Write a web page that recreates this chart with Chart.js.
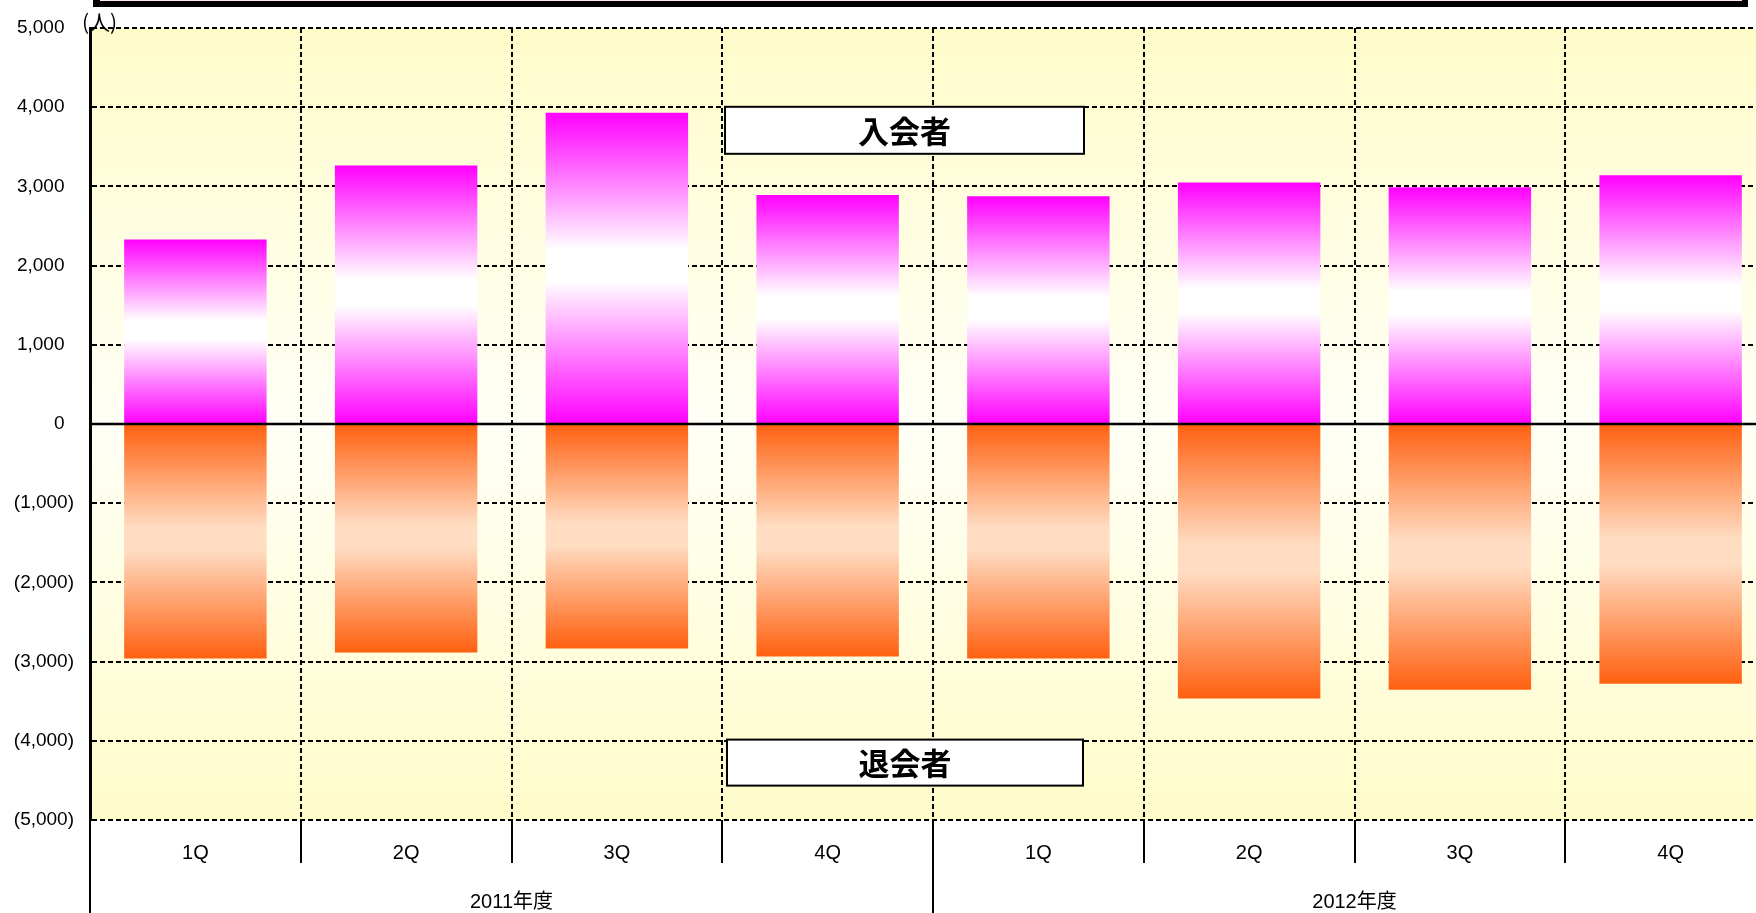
<!DOCTYPE html>
<html lang="ja">
<head>
<meta charset="utf-8">
<title>入会者・退会者</title>
<script src="https://cdn.jsdelivr.net/npm/chart.js"></script>
<style>
  html, body { margin: 0; padding: 0; background: #fff; overflow: hidden; }
  #wrap { position: relative; width: 1756px; height: 913px; overflow: hidden; }
  canvas { display: block; }
</style>
</head>
<body>
<div id="wrap">
  <canvas id="memberChart" width="1790" height="913"></canvas>
</div>
<script>
/* 入会者 / 退会者 quarterly chart */

const quarters = ["1Q", "2Q", "3Q", "4Q", "1Q", "2Q", "3Q", "4Q"];
const fiscalYears = ["2011年度", "2012年度"];
const joined = [2330, 3265, 3930, 2890, 2875, 3050, 2990, 3140];
const withdrawn = [-2960, -2885, -2835, -2935, -2960, -3465, -3355, -3280];
const yMin = -5000;
const yMax = 5000;
const yStep = 1000;

const NUM_FONT = "'Liberation Sans', Arial, 'Noto Sans CJK JP', sans-serif";
const JP_FONT = "'Noto Sans CJK JP', sans-serif";

// accounting style: negatives in brackets, positives padded to line up
function formatTick(value) {
  const text = Math.abs(value).toLocaleString("en-US");
  return value < 0 ? "(" + text + ")" : text + "\u2002";
}

function barGradient(context, edge, middle) {
  const chart = context.chart;
  const yScale = chart.scales.y;
  if (!chart.chartArea || !yScale || context.type !== "data") return edge;

  const top = yScale.getPixelForValue(context.raw);
  const base = yScale.getPixelForValue(0);
  const g = chart.ctx.createLinearGradient(0, Math.min(top, base), 0, Math.max(top, base));
  g.addColorStop(0, edge);
  g.addColorStop(0.44, middle);
  g.addColorStop(0.54, middle);
  g.addColorStop(1, edge);
  return g;
}

const backgroundPlugin = {
  id: "plotBackground",
  beforeDraw(chart) {
    const { ctx, chartArea } = chart;
    ctx.save();
    ctx.fillStyle = "#ffffff";
    ctx.fillRect(0, 0, chart.width, chart.height);

    const g = ctx.createLinearGradient(0, chartArea.top, 0, chartArea.bottom);
    g.addColorStop(0, "#fffcca");
    g.addColorStop(0.5, "#fffff6");
    g.addColorStop(1, "#fffcca");
    ctx.fillStyle = g;
    ctx.fillRect(chartArea.left, chartArea.top, chartArea.right - chartArea.left, chartArea.bottom - chartArea.top);
    ctx.restore();
  }
};

const overlayPlugin = {
  id: "overlay",
  afterDatasetsDraw(chart) {
    const { ctx, chartArea, scales } = chart;
    const zero = scales.y.getPixelForValue(0);
    ctx.save();
    ctx.strokeStyle = "#000";
    ctx.lineWidth = 2.5;
    ctx.beginPath();
    ctx.moveTo(chartArea.left, zero);
    ctx.lineTo(chartArea.right, zero);
    ctx.stroke();
    ctx.restore();
  },
  afterDraw(chart) {
    const { ctx, chartArea, scales } = chart;
    const x = scales.x;
    const y = scales.y;

    ctx.save();

    // clipped title frame at the very top
    ctx.fillStyle = "#000";
    ctx.fillRect(93, -10, 1655, 17);
    ctx.fillStyle = "#ffeaea";
    ctx.fillRect(100, -10, 1642, 11);

    // left axis and year divider running below the plot
    ctx.strokeStyle = "#000";
    ctx.lineWidth = 2;
    const yearSplit = (x.getPixelForValue(3) + x.getPixelForValue(4)) / 2;
    ctx.beginPath();
    ctx.moveTo(chartArea.left, chartArea.bottom);
    ctx.lineTo(chartArea.left, chart.height);
    ctx.moveTo(yearSplit, chartArea.bottom);
    ctx.lineTo(yearSplit, chart.height);
    ctx.stroke();

    // fiscal year labels
    ctx.fillStyle = "#000";
    ctx.font = "20px " + NUM_FONT;
    ctx.textAlign = "center";
    ctx.textBaseline = "middle";
    const yearEnds = [chartArea.left, yearSplit, chartArea.right];
    fiscalYears.forEach((label, i) => {
      ctx.fillText(label, (yearEnds[i] + yearEnds[i + 1]) / 2, 902);
    });

    // unit label
    ctx.font = "21px " + JP_FONT;
    ctx.textAlign = "left";
    ctx.fillText("(人)", 82, 22);

    // series boxes
    drawBox(ctx, "入会者", 725, y.getPixelForValue(4005), 359, 47);
    drawBox(ctx, "退会者", 727, y.getPixelForValue(-3985), 356, 46);

    ctx.restore();
  }
};

function drawBox(ctx, text, left, top, width, height) {
  ctx.fillStyle = "#ffffff";
  ctx.fillRect(left, top, width, height);
  ctx.strokeStyle = "#000";
  ctx.lineWidth = 2;
  ctx.strokeRect(left, top, width, height);
  ctx.fillStyle = "#000";
  ctx.font = "bold 31px " + JP_FONT;
  ctx.textAlign = "center";
  ctx.textBaseline = "middle";
  ctx.fillText(text, left + width / 2, top + height / 2 + 1);
}

const canvas = document.getElementById("memberChart");

new Chart(canvas, {
  type: "bar",
  data: {
    labels: quarters,
    datasets: [
      {
        label: "入会者",
        data: joined,
        backgroundColor: (c) => barGradient(c, "#ff00ff", "#ffffff"),
        borderWidth: 0
      },
      {
        label: "退会者",
        data: withdrawn,
        backgroundColor: (c) => barGradient(c, "#ff6010", "#ffdcc2"),
        borderWidth: 0
      }
    ]
  },
  options: {
    responsive: false,
    animation: false,
    devicePixelRatio: 1,
    layout: {
      padding: { top: 28, right: 14, bottom: 0, left: 0 }
    },
    datasets: {
      bar: {
        barPercentage: 0.676,
        categoryPercentage: 1
      }
    },
    plugins: {
      legend: { display: false },
      title: { display: false },
      tooltip: { enabled: false }
    },
    scales: {
      x: {
        stacked: true,
        offset: true,
        grid: {
          offset: true,
          color: "#000",
          lineWidth: 2,
          drawTicks: true,
          tickLength: 43,
          tickWidth: 2,
          tickColor: "#000",
          tickBorderDash: []
        },
        border: {
          display: false,
          dash: [5, 3]
        },
        ticks: {
          color: "#000",
          font: { family: NUM_FONT, size: 20 },
          padding: -22,
          maxRotation: 0,
          autoSkip: false
        },
        afterFit(axis) {
          axis.height = 93;
          axis.paddingLeft = 0;
          axis.paddingRight = 0;
        }
      },
      y: {
        stacked: true,
        min: yMin,
        max: yMax,
        grid: {
          color: "#000",
          lineWidth: 2,
          drawTicks: false
        },
        border: {
          display: true,
          color: "#000",
          width: 3,
          dash: [5, 3]
        },
        ticks: {
          stepSize: yStep,
          color: "#000",
          font: { family: NUM_FONT, size: 19 },
          padding: 16,
          callback: formatTick
        },
        afterFit(axis) {
          axis.width = 90;
          axis.paddingTop = 0;
          axis.paddingBottom = 0;
        }
      }
    }
  },
  plugins: [backgroundPlugin, overlayPlugin]
});
</script>
</body>
</html>
